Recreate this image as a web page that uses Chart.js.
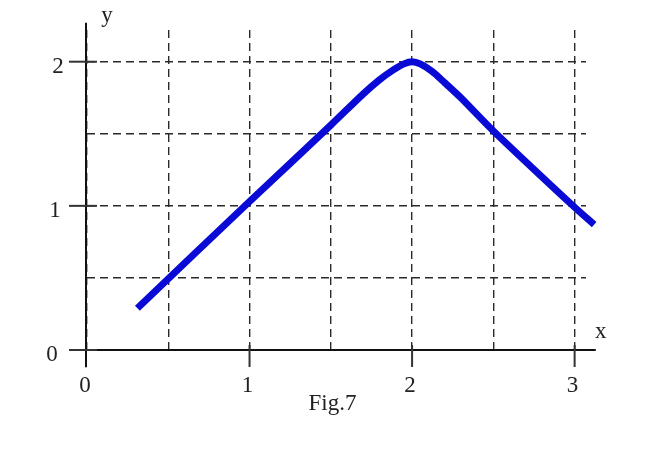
<!DOCTYPE html>
<html>
<head>
<meta charset="utf-8">
<script src="https://cdn.jsdelivr.net/npm/chart.js@4.4.1/dist/chart.umd.min.js"></script>
<style>
  html, body { margin: 0; padding: 0; background: #fff; }
  #wrap { width: 650px; height: 458px; }
</style>
</head>
<body>
<div id="wrap"><canvas id="grafico"></canvas></div>
<script>
// valores
const xVals = [0.31, 1, 1.5, 1.7, 1.8, 1.88, 1.95, 2.0, 2.05, 2.12, 2.2, 2.3, 2.5, 3, 3.12];
const yVals = [0.29, 1.03, 1.56, 1.777, 1.875, 1.94, 1.985, 2.0, 1.985, 1.935, 1.855, 1.75, 1.52, 0.99, 0.87];
const xTicks = [0, 1, 2, 3];
const yTicks = [0, 1, 2];
const xTitle = "x";
const yTitle = "y";
const caption = "Fig.7";

const fonte = "23px 'Liberation Serif', 'DejaVu Serif', serif";

// eixos, marcas e textos desenhados pelas escalas do proprio chart
const eixos = {
    id: 'eixos',
    afterDatasetsDraw(chart) {
        const ctx = chart.ctx;
        const sx = chart.scales.x;
        const sy = chart.scales.y;
        const x0 = sx.getPixelForValue(0) - 1;
        const y0 = sy.getPixelForValue(0);

        ctx.save();
        ctx.strokeStyle = '#111';
        ctx.lineWidth = 2;

        // eixo x
        ctx.beginPath();
        ctx.moveTo(sx.getPixelForValue(-0.11), y0);
        ctx.lineTo(sx.getPixelForValue(3.13), y0);
        ctx.stroke();

        // eixo y
        ctx.beginPath();
        ctx.moveTo(x0, sy.getPixelForValue(2.27));
        ctx.lineTo(x0, sy.getPixelForValue(-0.12));
        ctx.stroke();

        // marcas
        ctx.strokeStyle = '#333';
        xTicks.forEach(v => {
            if (v === 0) return;
            const px = sx.getPixelForValue(v);
            ctx.beginPath();
            ctx.moveTo(px, y0 - 5);
            ctx.lineTo(px, y0 + 17);
            ctx.stroke();
        });
        yTicks.forEach(v => {
            const py = sy.getPixelForValue(v);
            ctx.beginPath();
            ctx.moveTo(x0 - 17, py);
            ctx.lineTo(x0 + 11, py);
            ctx.stroke();
        });

        // textos
        ctx.fillStyle = '#222';
        ctx.font = fonte;
        ctx.textAlign = 'center';
        ctx.textBaseline = 'middle';
        xTicks.forEach(v => {
            ctx.fillText(String(v), sx.getPixelForValue(v) - 2, y0 + 36);
        });
        yTicks.forEach(v => {
            ctx.fillText(String(v), x0 - 34 + v * 3, sy.getPixelForValue(v) + 5);
        });
        ctx.fillText(yTitle, x0 + 21, 16);
        ctx.fillText(xTitle, sx.getPixelForValue(3.16), y0 - 18);
        ctx.fillText(caption, sx.getPixelForValue(1.51), y0 + 54);
        ctx.restore();
    }
};

const ctx = document.getElementById("grafico").getContext("2d");

new Chart(ctx, {
    type: "line",
    data: {
        datasets: [{
            data: xVals.map((x, i) => ({ x: x, y: yVals[i] })),
            borderColor: "#0a0ad6",
            borderWidth: 7,
            borderCapStyle: "butt",
            borderJoinStyle: "round",
            pointRadius: 0,
            tension: 0.3,
            fill: false,
            clip: false
        }]
    },
    options: {
        responsive: true,
        maintainAspectRatio: false,
        animation: false,
        events: [],
        layout: {
            padding: { left: 87, right: 64, top: 30, bottom: 108 }
        },
        plugins: {
            legend: { display: false },
            tooltip: { enabled: false }
        },
        scales: {
            x: {
                type: "linear",
                min: 0,
                max: 3.07,
                grid: {
                    color: "#2a2a2a",
                    lineWidth: 1.4,
                    drawTicks: false
                },
                border: { display: false, dash: [8, 5] },
                ticks: { display: false, stepSize: 0.5, includeBounds: false }
            },
            y: {
                type: "linear",
                min: 0,
                max: 2.22,
                grid: {
                    color: "#2a2a2a",
                    lineWidth: 1.4,
                    drawTicks: false
                },
                border: { display: false, dash: [8, 5] },
                ticks: { display: false, stepSize: 0.5, includeBounds: false }
            }
        }
    },
    plugins: [eixos]
});
</script>
</body>
</html>
